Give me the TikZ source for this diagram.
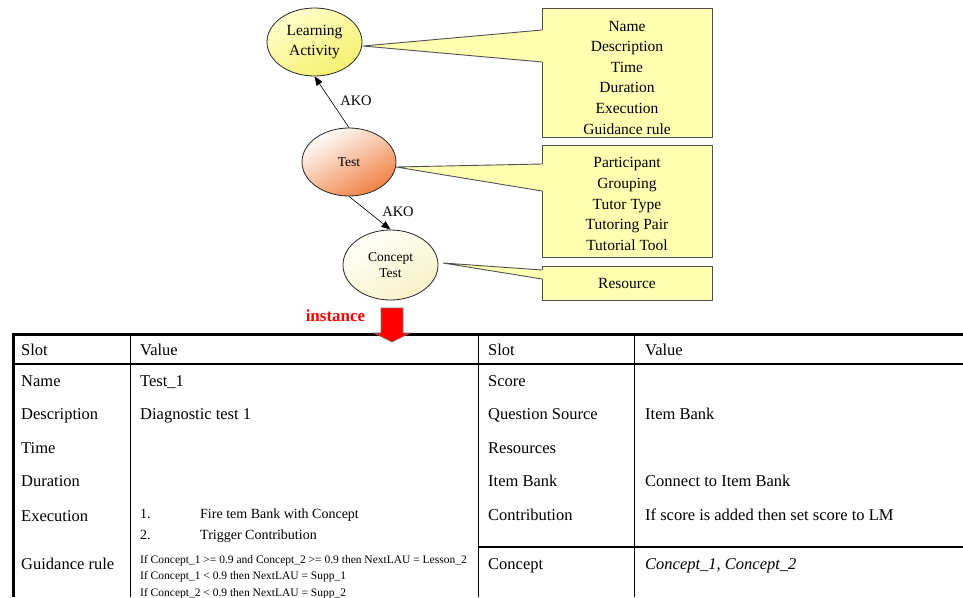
\documentclass[tikz,border=0pt]{standalone}
\usepackage{fontspec}
\setmainfont{Liberation Serif}
\usetikzlibrary{shapes.geometric,calc,arrows.meta}
\definecolor{calloutfill}{RGB}{255,255,178}
\definecolor{calloutedge}{RGB}{80,80,80}
\definecolor{instred}{RGB}{255,0,0}
\newcommand{\fsz}[2]{\fontsize{#1}{#2}\selectfont}

\begin{document}
\begin{tikzpicture}[x=1pt,y=-1pt,
  frame/.style={ellipse, draw=black!85, line width=0.8pt, inner sep=0pt, align=center},
  callout/.style={draw=calloutedge, line width=1pt, fill=calloutfill, inner sep=0pt, anchor=north west},
  callouttext/.style={align=center, inner sep=0pt, font=\fsz{15.5}{20.6}},
  ako/.style={draw=black, line width=0.6pt, -{Triangle[length=9pt,width=7pt]}},
  akolabel/.style={font=\fsz{14.5}{17}, inner sep=0pt},
  cell/.style={anchor=base west, inner sep=0pt, font=\fsz{16.5}{19}},
  rulecell/.style={anchor=base west, inner sep=0pt, font=\fsz{11.5}{13}},
  listcell/.style={anchor=base west, inner sep=0pt, font=\fsz{14}{16}},
  thin rule/.style={line width=0.9pt},
  thick rule/.style={line width=2.6pt},
]
\useasboundingbox (0,0) rectangle (963,597);
\clip (0,0) rectangle (963,597);

% frame hierarchy
\node[frame, minimum width=95pt, minimum height=68pt, font=\fsz{15.5}{20},
      top color={rgb,255:red,255;green,255;blue,205}, bottom color={rgb,255:red,245;green,240;blue,110},
      shading angle=30] (la) at (314.5,42) {Learning\\Activity};
\node[frame, minimum width=94pt, minimum height=68pt, font=\fsz{13.5}{16},
      top color=white, bottom color={rgb,255:red,240;green,128;blue,66},
      shading angle=30] (test) at (349,162) {Test};
\node[frame, minimum width=95pt, minimum height=70pt, font=\fsz{13.5}{16.5},
      top color={rgb,255:red,255;green,255;blue,250}, bottom color={rgb,255:red,248;green,242;blue,200},
      shading angle=30] (ct) at (390.5,265) {Concept\\Test};

\draw[ako] (test.north) -- (la.south);
\draw[ako] (test.south) -- (ct.north);
\node[akolabel] (ako1) at (356,101) {AKO};
\node[akolabel] (ako2) at (398,212) {AKO};

% slot callouts
\node[callout, minimum width=170pt, minimum height=129pt] (c1) at (542,8) {};
\node[callout, minimum width=170pt, minimum height=112pt] (c2) at (542,145) {};
\node[callout, minimum width=170pt, minimum height=34pt] (c3) at (542,266) {};

\coordinate (t1) at (363,46);
\coordinate (t2) at (396,167);
\coordinate (t3) at (443,263);

\fill[calloutfill] (t1) -- ($(c1.north west)+(1.4,22)$) -- ($(c1.north west)+(1.4,54)$) -- cycle;
\draw[calloutedge, line width=0.9pt] ($(c1.north west)+(0,22)$) -- (t1) -- ($(c1.north west)+(0,54)$);
\fill[calloutfill] (t2) -- ($(c2.north west)+(1.4,19)$) -- ($(c2.north west)+(1.4,46)$) -- cycle;
\draw[calloutedge, line width=0.9pt] ($(c2.north west)+(0,19)$) -- (t2) -- ($(c2.north west)+(0,46)$);
\fill[calloutfill] (t3) -- ($(c3.north west)+(1.4,4)$) -- ($(c3.north west)+(1.4,13)$) -- cycle;
\draw[calloutedge, line width=0.9pt] ($(c3.north west)+(0,4)$) -- (t3) -- ($(c3.north west)+(0,13)$);

\node[callouttext] (c1t) at (627,77.5) {Name\\Description\\Time\\Duration\\Execution\\Guidance rule};
\node[callouttext] (c2t) at (627,204) {Participant\\Grouping\\Tutor Type\\Tutoring Pair\\Tutorial Tool};
\node[callouttext] (c3t) at (627,283) {Resource};

% instance table rules
\draw[thick rule] (12,334.5) -- (963,334.5);
\draw[thick rule] (12,364) -- (963,364);
\draw[thick rule] (13.3,333.2) -- (13.3,597);
\draw[thin rule] (130,334) -- (130,597);
\draw[thin rule] (478.5,334) -- (478.5,597);
\draw[thin rule] (634.5,334) -- (634.5,597);
\draw[thick rule] (478,547) -- (963,547);

% instance arrow
\draw[fill=instred, draw=black!55, line width=0.6pt]
  (381,308) -- (403,308) -- (403,333) -- (410,333) -- (392,342) -- (374,333) -- (381,333) -- cycle;
\node[font=\fsz{17}{20}\bfseries, text=instred, inner sep=0pt] (inst) at (335.5,316) {instance};

% left table
\node[cell] (ls0) at (21,355.5) {Slot};
\node[cell] (ls1) at (21,386.5) {Name};
\node[cell] (ls2) at (21,419.5) {Description};
\node[cell] (ls3) at (21,453.5) {Time};
\node[cell] (ls4) at (21,486.5) {Duration};
\node[cell] (ls5) at (21,521) {Execution};
\node[cell] (ls6) at (21,569.5) {Guidance rule};

\node[cell] (lv0) at (140,355.5) {Value};
\node[cell] (lv1) at (140,386.5) {Test\_1};
\node[cell] (lv2) at (140,419.5) {Diagnostic test 1};
\node[listcell] (le1n) at (140,518) {1.};
\node[listcell] (le1) at (200,518) {Fire tem Bank with Concept};
\node[listcell] (le2n) at (140,539) {2.};
\node[listcell] (le2) at (200,539) {Trigger Contribution};
\node[rulecell] (lg1) at (140,563) {If Concept\_1 >= 0.9 and Concept\_2 >= 0.9 then NextLAU = Lesson\_2};
\node[rulecell] (lg2) at (140,579) {If Concept\_1 < 0.9 then NextLAU = Supp\_1};
\node[rulecell] (lg3) at (140,596) {If Concept\_2 < 0.9 then NextLAU = Supp\_2};

% right table
\node[cell] (rs0) at (488,355.5) {Slot};
\node[cell] (rs1) at (488,386.5) {Score};
\node[cell] (rs2) at (488,419.5) {Question Source};
\node[cell] (rs3) at (488,453.5) {Resources};
\node[cell] (rs4) at (488,486.5) {Item Bank};
\node[cell] (rs5) at (488,520.5) {Contribution};
\node[cell] (rs6) at (488,569.5) {Concept};

\node[cell] (rv0) at (645,355.5) {Value};
\node[cell] (rv2) at (645,419.5) {Item Bank};
\node[cell] (rv4) at (645,486.5) {Connect to Item Bank};
\node[cell] (rv5) at (645,520.5) {If score is added then set score to LM};
\node[cell] (rv6) at (645,569.5) {\itshape Concept\_1, Concept\_2};
\end{tikzpicture}
\end{document}
